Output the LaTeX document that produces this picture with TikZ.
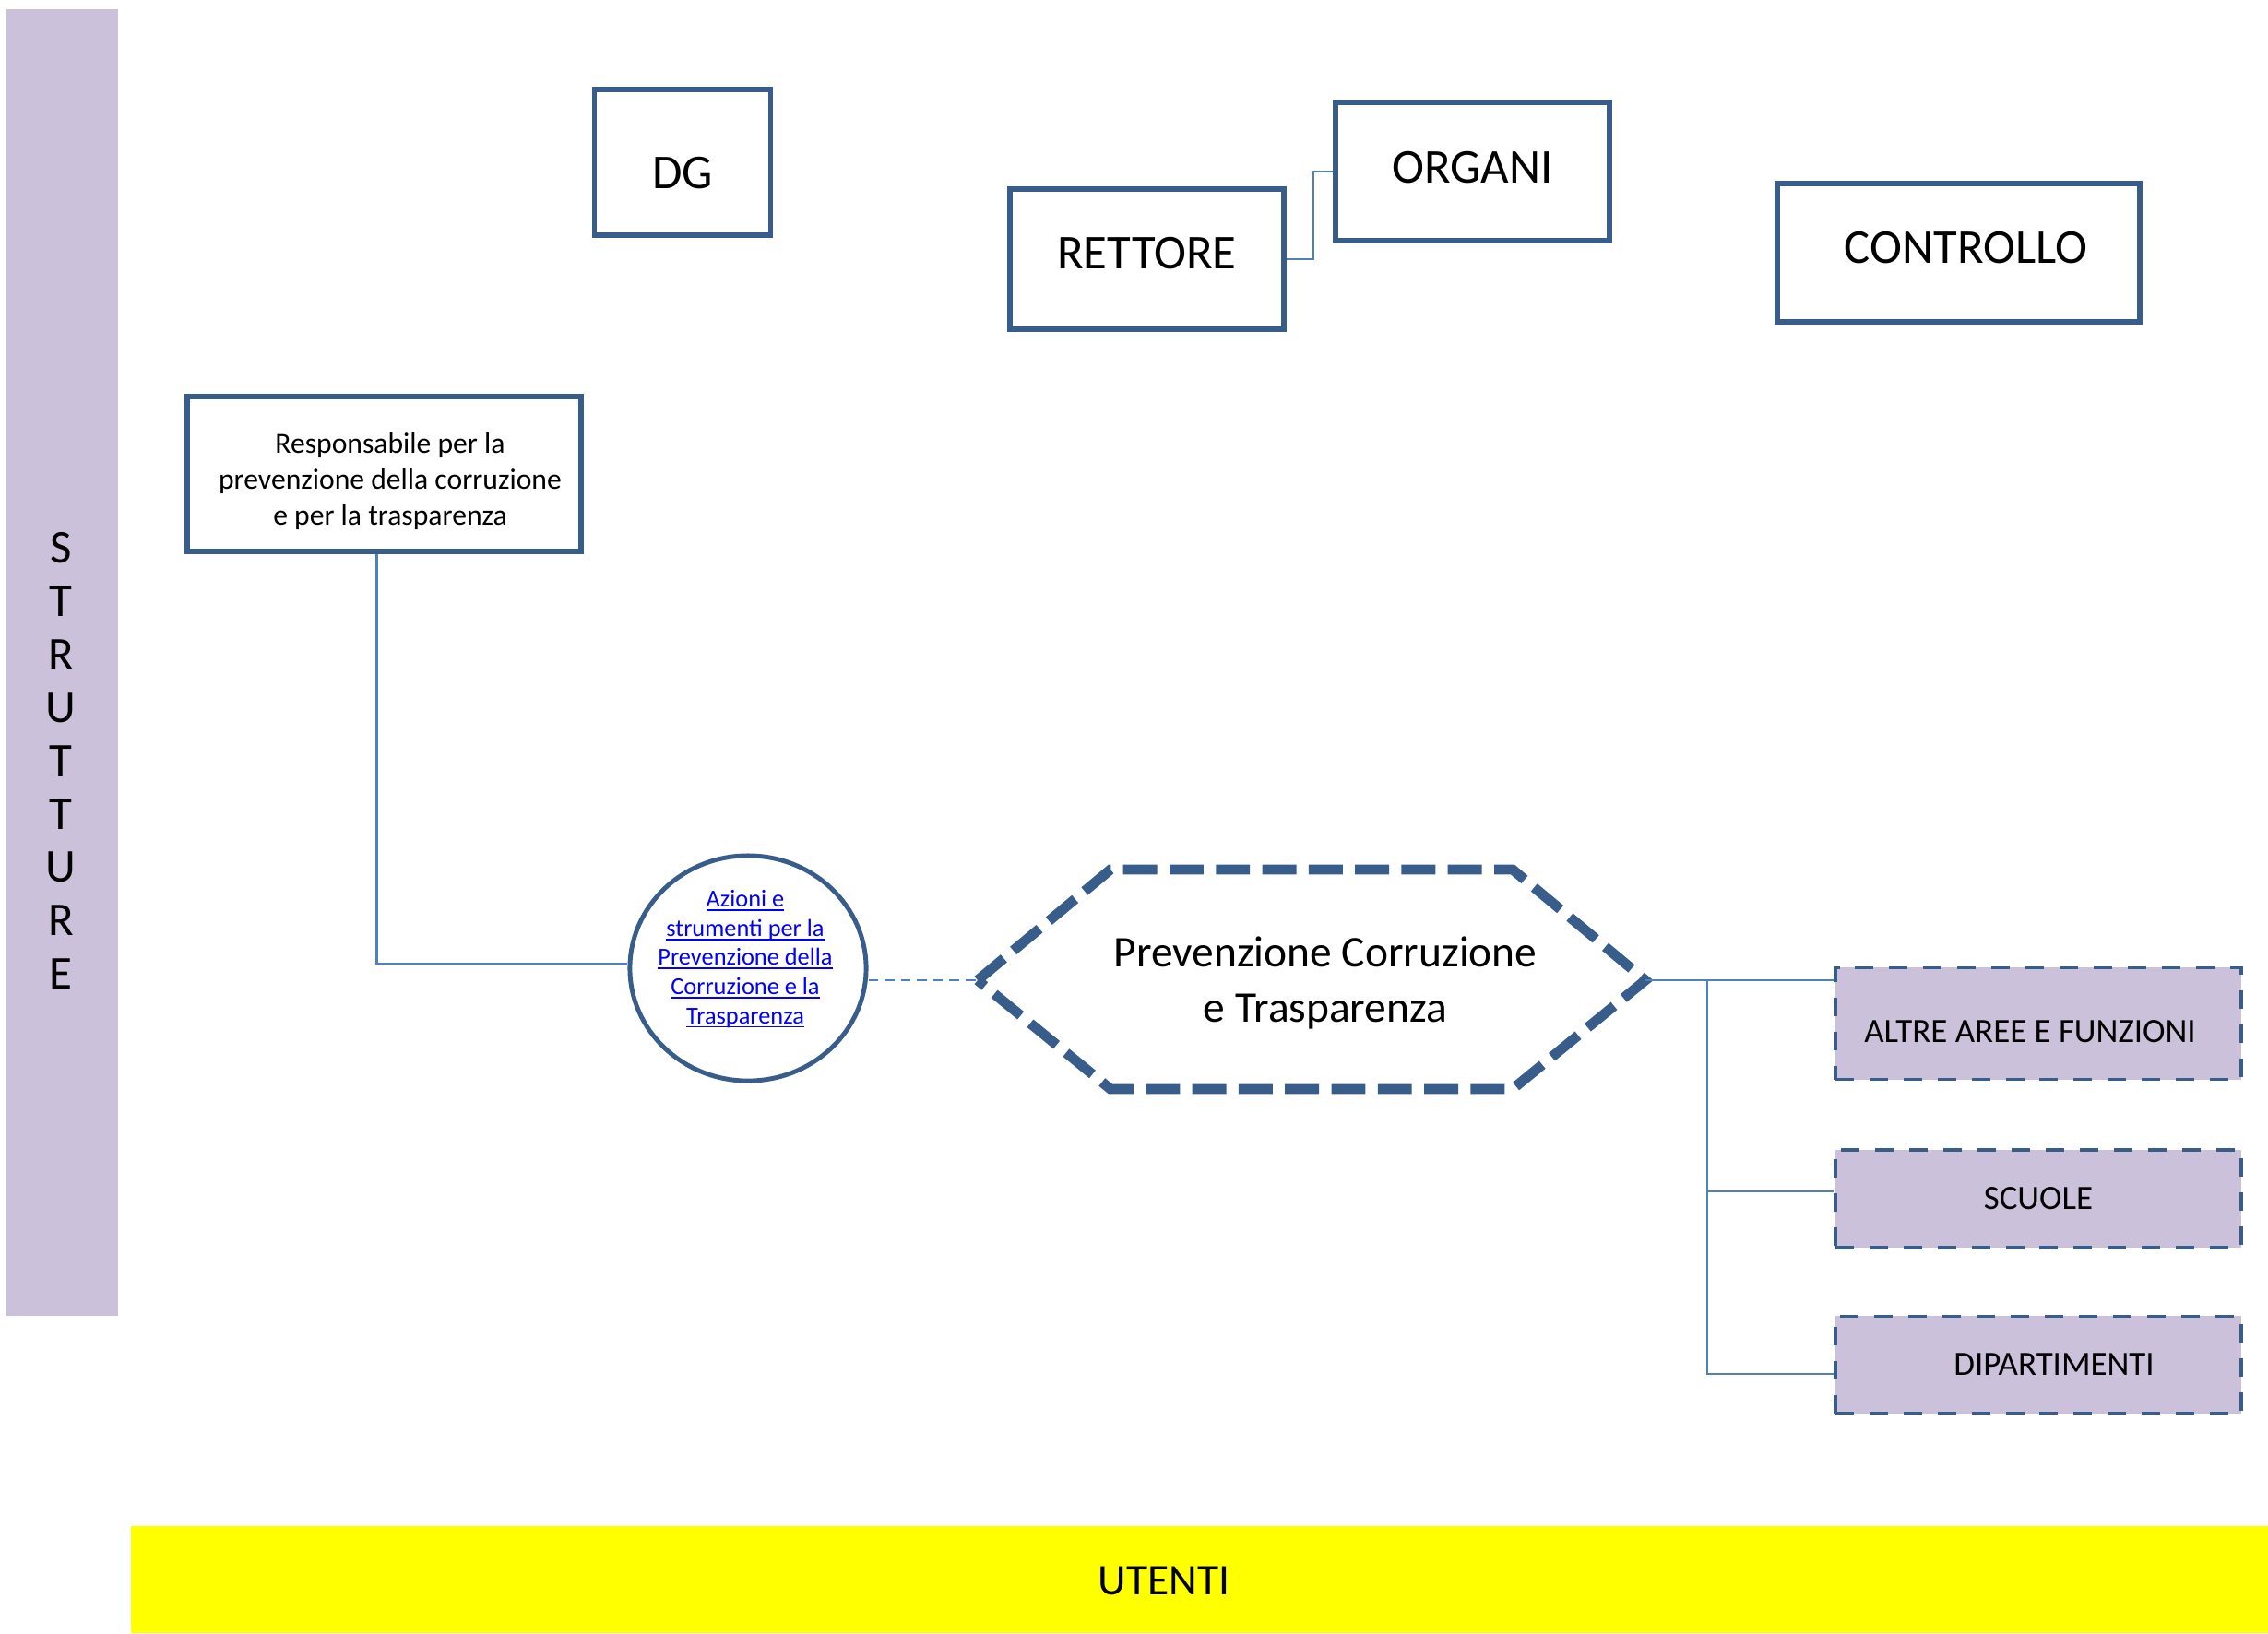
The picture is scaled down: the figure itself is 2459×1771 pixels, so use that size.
\documentclass[tikz,border=0pt]{standalone}
\usepackage{fontspec}
\setmainfont{Carlito}
\usetikzlibrary{shapes.geometric}
\definecolor{boxblue}{HTML}{385D8A}
\definecolor{connblue}{HTML}{4F81BD}
\definecolor{lav}{HTML}{CCC1DA}
\definecolor{hyper}{HTML}{0000FF}
\definecolor{barYellow}{HTML}{FFFF00}
\newcommand\lnkul[1]{\setbox0\hbox{#1}\rlap{\rule[-0.16em]{\wd0}{0.07em}}\box0}
\newcommand\basetext[2]{\raisebox{#1}[0pt][0pt]{#2}}
\begin{document}
\begin{tikzpicture}[x=0.01cm,y=-0.01cm,
  solidbox/.style={draw=boxblue, line width=1.6pt, fill=white, inner sep=0pt},
  dashbox/.style={draw=boxblue, line width=1.1pt, dash pattern=on 5.7pt off 4.8pt, fill=lav, inner sep=0pt, font=\fontsize{10.5}{12.6}\selectfont},
  bigtext/.style={font=\fontsize{15}{18}\selectfont},
  conn/.style={draw=connblue, line width=0.6pt},
  hexline/.style={draw=boxblue, line width=3.1pt, dash pattern=on 10.5pt off 3.8pt}
]
\useasboundingbox (0,0) rectangle (2459,1771);
% side bar
\node[fill=lav, minimum width=1.21cm, minimum height=14.17cm, inner sep=0pt] (sidebar) at (67.5,718.5) {};
\node[font=\fontsize{14.5}{16.4}\selectfont, align=center, inner sep=0pt] (strutture) at (66,825) {S\\T\\R\\U\\T\\T\\U\\R\\E};
% bottom bar
\node[fill=barYellow, minimum width=23.16cm, minimum height=1.16cm, inner sep=0pt] (utentibar) at (1301,1713) {};
\node[font=\fontsize{13.5}{16}\selectfont, inner sep=0pt] (utenti) at (1262,1714) {UTENTI};
% top boxes
\node[solidbox, bigtext, minimum width=1.91cm, minimum height=1.58cm] (dg) at (740,176) {\basetext{-0.28cm}{DG}};
\node[solidbox, bigtext, minimum width=2.97cm, minimum height=1.52cm] (rettore) at (1243.5,281) {\basetext{-0.105cm}{RETTORE}};
\node[solidbox, bigtext, minimum width=2.97cm, minimum height=1.50cm] (organi) at (1596.5,186) {\basetext{-0.12cm}{ORGANI}};
\node[solidbox, bigtext, minimum width=3.93cm, minimum height=1.50cm] (controllo) at (2123.5,274) {\hspace*{0.16cm}\basetext{-0.115cm}{CONTROLLO}};
\draw[conn] (rettore.east) -- ++(29,0) |- (organi.west);
% responsabile
\node[solidbox, minimum width=4.27cm, minimum height=1.68cm] (resp) at (416.5,514) {};
\node[align=center, inner sep=0pt, font=\fontsize{9}{11.1}\selectfont] (resptext) at (423,522) {Responsabile per la\\prevenzione della corruzione\\e per la trasparenza};
% ellipse
\node[ellipse, draw=boxblue, line width=1.4pt, fill=white, minimum width=2.56cm, minimum height=2.44cm, inner sep=0pt] (azioni) at (811,1050) {};
\node[font=\fontsize{7.5}{9}\selectfont, text=hyper, align=center, inner sep=0pt] (azionitxt) at (808,1040) {\lnkul{Azioni e}\\\lnkul{strumenti per la}\\\lnkul{Prevenzione della}\\\lnkul{Corruzione e la}\\\lnkul{Trasparenza}};
\draw[conn] ([xshift=-0.08cm]resp.south) |- ([yshift=0.05cm]azioni.west);
% hexagon
\coordinate (hexL) at (1060,1063);
\coordinate (hexR) at (1784,1063);
\draw[hexline, fill=white] (hexL) -- (1204,943) -- (1640,943) -- (hexR) -- (1640,1181) -- (1204,1181) -- cycle;
\node[font=\fontsize{13.5}{16.8}\selectfont, align=center, inner sep=0pt] (prev) at (1437,1066) {Prevenzione Corruzione\\e Trasparenza};
\draw[conn, dash pattern=on 3pt off 2pt] (hexL -| azioni.east) -- (hexL);
% right boxes
\node[dashbox, minimum width=4.40cm, minimum height=1.21cm] (altre) at (2210,1110) {\hspace*{-0.18cm}\basetext{-0.20cm}{ALTRE AREE E FUNZIONI}};
\node[dashbox, minimum width=4.40cm, minimum height=1.06cm] (scuole) at (2210,1300) {SCUOLE};
\node[dashbox, minimum width=4.40cm, minimum height=1.05cm] (dip) at (2210,1480) {\hspace*{0.34cm}DIPARTIMENTI};
\coordinate (bus) at (1851,1063);
\draw[conn] (hexR) -- (hexR -| altre.west);
\draw[conn] (bus) |- ([yshift=0.08cm]scuole.west);
\draw[conn] (bus) |- ([yshift=-0.1cm]dip.west);
\end{tikzpicture}
\end{document}
